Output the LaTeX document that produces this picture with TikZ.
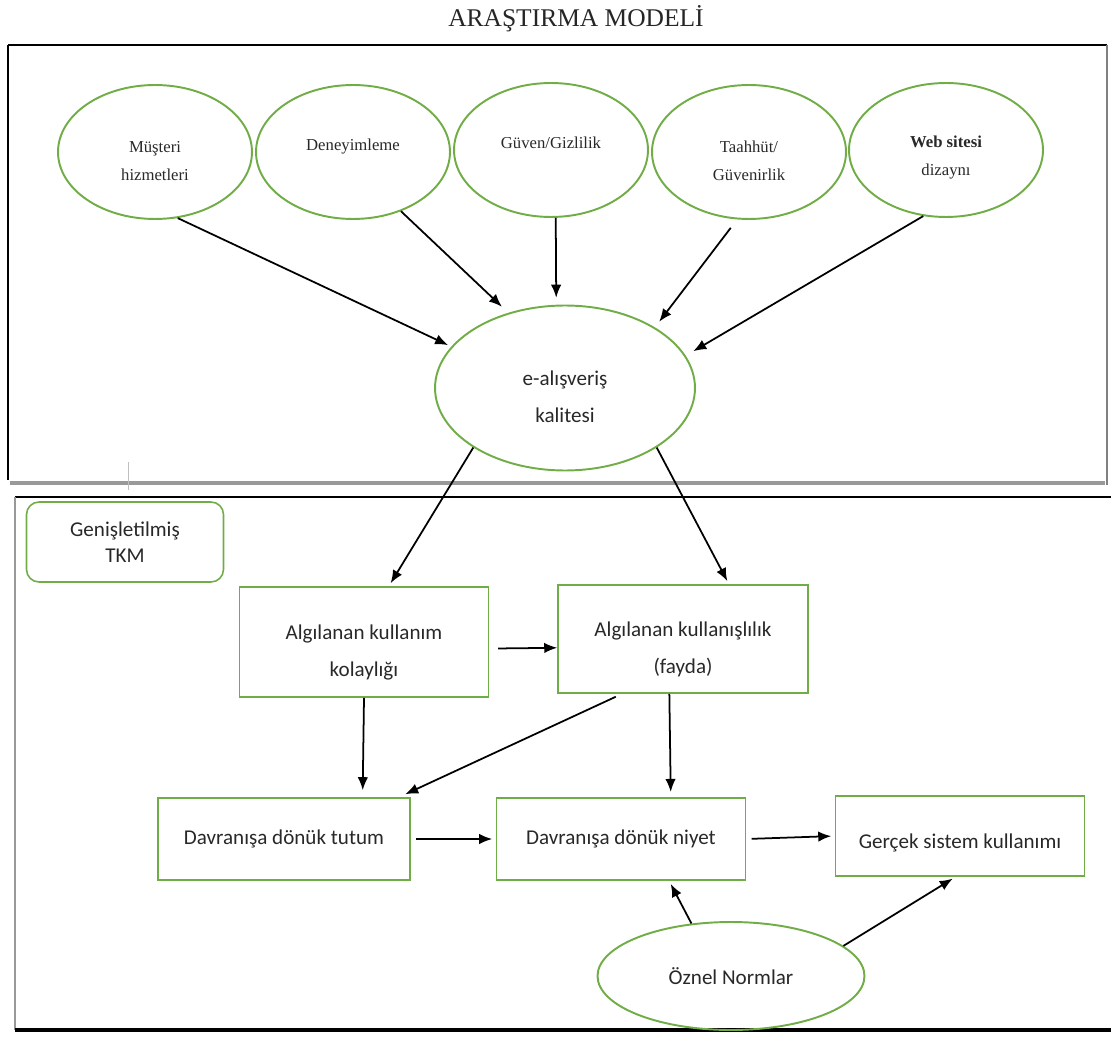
\documentclass[tikz,border=0pt]{standalone}
\usepackage{fontspec}
\setmainfont{Carlito}
\newfontfamily\serifsmall{Liberation Serif}
\usetikzlibrary{shapes.geometric,arrows.meta}

\definecolor{frameGreen}{RGB}{112,173,71}
\definecolor{textGray}{RGB}{40,40,40}
\newcommand{\lift}[1]{\rule{0pt}{#1}}
\newcommand{\drop}[1]{\rule[-#1]{0pt}{#1}}

\begin{document}
\begin{tikzpicture}[x=0.02cm,y=-0.02cm,
  topell/.style={ellipse,draw=frameGreen,line width=1.1pt,minimum width=3.88cm,minimum height=2.68cm,
    align=center,font=\serifsmall\fontsize{9.5}{16}\selectfont,text=textGray},
  bigell/.style={ellipse,draw=frameGreen,line width=1.1pt,align=center,
    font=\fontsize{12}{21}\selectfont,text=textGray},
  box/.style={rectangle,draw=frameGreen,line width=0.9pt,minimum width=4.98cm,minimum height=1.64cm,
    align=center,font=\fontsize{12}{21}\selectfont,text=textGray},
  arr/.style={-{Latex[length=2.6mm,width=2.1mm]},line width=1pt,black}]
\useasboundingbox (0,0) rectangle (1111,1050);

% Title
\node[anchor=base,font=\serifsmall\fontsize{14.5}{16}\selectfont,text=black!85] (title) at (576,27) {ARAŞTIRMA MODELİ};

% Frames
\draw[line width=1.6pt] (8,45) -- (1107,45);
\draw[line width=1.2pt] (8,45) -- (8,480);
\draw[gray,line width=0.6pt] (1107,45) -- (1107,485);
\draw[gray!80,line width=2pt] (10,483) -- (1105,483);
\draw[gray!50,line width=0.4pt] (128,462) -- (128,490);
\draw[line width=1.2pt] (15,497) -- (1111,497);
\draw[gray!80,line width=1.2pt] (15,497) -- (15,1030);
\draw[line width=2pt] (15,1030) -- (1111,1030);

% Nodes
\node[topell] (musteri) at (155,152) {\lift{16.5pt}Müşteri\\hizmetleri};
\node[topell] (deney) at (353,152) {\drop{8pt}Deneyimleme};
\node[topell] (guven) at (551,150) {\drop{8pt}Güven/Gizlilik};
\node[topell] (taahhut) at (749,152) {\lift{16.5pt}Taahhüt/\\Güvenirlik};
\node[topell] (web) at (946,150) {\lift{15pt}\textbf{Web sitesi}\\dizaynı};

\node[bigell,minimum width=5.2cm,minimum height=3.3cm] (kalite) at (565,388) {\lift{18.5pt}e-alışveriş\\kalitesi};

\node[box,rounded corners=0.25cm,minimum width=3.94cm,minimum height=1.6cm] (tkm) at (125,542) {Genişletilmiş\\[-6pt]TKM};
\node[box,minimum height=2.2cm] (kolay) at (364,642) {\lift{20pt}Algılanan kullanım\\kolaylığı};
\node[box,minimum width=5cm,minimum height=2.16cm] (fayda) at (683,639) {\lift{20pt}Algılanan kullanışlılık\\(fayda)};
\node[box,minimum width=5.04cm] (tutum) at (284,839) {Davranışa dönük tutum};
\node[box] (niyet) at (621,839) {Davranışa dönük niyet};
\node[box,minimum height=1.6cm] (gercek) at (960,836) {\lift{16pt}Gerçek sistem kullanımı};
\node[bigell,minimum width=5.34cm,minimum height=2.16cm] (oznel) at (731,976) {Öznel Normlar};

% Edges
\draw[arr,shorten >=2pt] (musteri.-71) -- (kalite.160);
\draw[arr,shorten >=5pt] (deney.-51) -- (kalite.127);
\draw[arr,shorten >=4pt] (guven.-86) -- (kalite.96);
\draw[arr,shorten <=6pt,shorten >=4pt] (taahhut.-100) -- (kalite.34);
\draw[arr,shorten >=5pt] (web.-109) -- (kalite.15);

\draw[arr,shorten >=2pt] (kalite.-147) -- (kolay.66);
\draw[arr,shorten >=2pt] (kalite.-33) -- (fayda.50);

\draw[arr,shorten <=5pt] (kolay.-3) -- (fayda.184);
\draw[arr,shorten >=4pt] (kolay.south) -- (tutum.28);
\draw[arr,shorten <=4pt,shorten >=4pt] (fayda.-138) -- (tutum.20);
\draw[arr,shorten >=3pt] (fayda.-104) -- (niyet.40);
\draw[arr,shorten <=3pt,shorten >=2pt] (tutum.east) -- (niyet.west);
\draw[arr,shorten <=3pt,shorten >=2pt] (niyet.east) -- (gercek.west);
\draw[arr,shorten >=2pt] (oznel.127) -- (niyet.-41);
\draw[arr,shorten >=2pt] (oznel.15) -- (gercek.-96);
\end{tikzpicture}
\end{document}
